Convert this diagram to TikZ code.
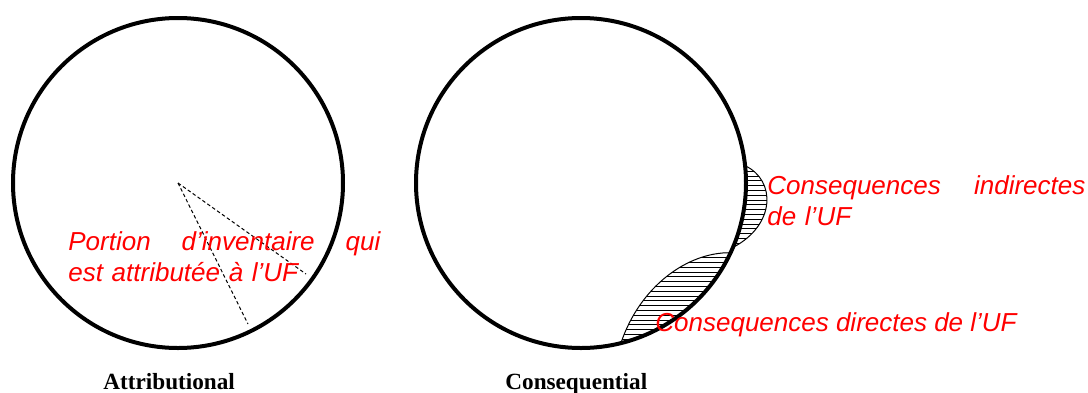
\documentclass[tikz,border=0pt]{standalone}
\usepackage{fontspec}
\setmainfont{Liberation Serif}
\newfontfamily\arialf{Liberation Sans}
\usetikzlibrary{calc}
\definecolor{notec}{RGB}{255,0,0}
\definecolor{inkc}{RGB}{0,0,0}
\tikzset{
  ring/.style={draw=inkc, line width=2pt},
  share/.style={draw=inkc, line width=0.5pt, dash pattern=on 1.75pt off 1.25pt},
  lens/.style={draw=inkc, line width=0.5pt},
  hatch/.style={draw=inkc, line width=0.45pt},
  note/.style={font=\arialf\itshape\fontsize{13pt}{15.5pt}\selectfont,
               text=notec, inner sep=0pt, anchor=base west, align=left},
  caption/.style={font=\bfseries\fontsize{11.6pt}{14pt}\selectfont,
                  inner sep=0pt, anchor=base west},
}

\begin{document}
\begin{tikzpicture}[x=0.5pt, y=-0.5pt]

  \useasboundingbox (0,0) rectangle (1088,392);

  \coordinate (cl) at (178,183);
  \coordinate (cr) at (581,183);

  % attributional: the share cut out of the inventory
  \coordinate (pivot) at (178,183);
  \coordinate (edgeA) at (248,324);
  \coordinate (edgeB) at (306,274);
  \draw[share] (pivot) -- (edgeA);
  \draw[share] (pivot) -- (edgeB);

  % consequential: the two hatched parts at the rim
  \coordinate (ua) at ($(cr)+(-6:165)$);
  \coordinate (ub) at ($(cr)+(23:165)$);
  \coordinate (la) at ($(cr)+(25:165)$);
  \coordinate (lb) at ($(cr)+(76:165)$);

  \begin{scope}
    \clip (ua) .. controls (776,180) and (776,225) .. (ub)
      arc[start angle=23, end angle=-6, radius=165] -- cycle;
    \foreach \k in {0,...,42}
      \draw[hatch] (600,152+4.8*\k) -- (800,152+4.8*\k);
  \end{scope}
  \draw[lens] (ua) .. controls (776,180) and (776,225) .. (ub)
    arc[start angle=23, end angle=-6, radius=165] -- cycle;

  \begin{scope}
    \clip (la) .. controls (688,252) and (640,286) .. (lb)
      arc[start angle=76, end angle=25, radius=165] -- cycle;
    \foreach \k in {0,...,42}
      \draw[hatch] (600,152+4.8*\k) -- (800,152+4.8*\k);
  \end{scope}
  \draw[lens] (la) .. controls (688,252) and (640,286) .. (lb)
    arc[start angle=76, end angle=25, radius=165] -- cycle;

  \draw[ring] (cl) circle[radius=165];
  \draw[ring] (cr) circle[radius=165];

  \node[note, text width=156pt] (portion) at (68,250.7)
    {\makebox[156pt][l]{Portion\hfill d’inventaire\hfill qui}\\est attributée à l’UF};
  \node[note, text width=159pt] (indirect) at (767,194)
    {\makebox[159pt][l]{Consequences\hfill indirectes}\\de l’UF};
  \node[note] (direct) at (655,331) {Consequences directes de l’UF};

  \node[caption] (attr) at (103,389) {Attributional};
  \node[caption] (conseq) at (505,389) {Consequential};

\end{tikzpicture}
\end{document}
